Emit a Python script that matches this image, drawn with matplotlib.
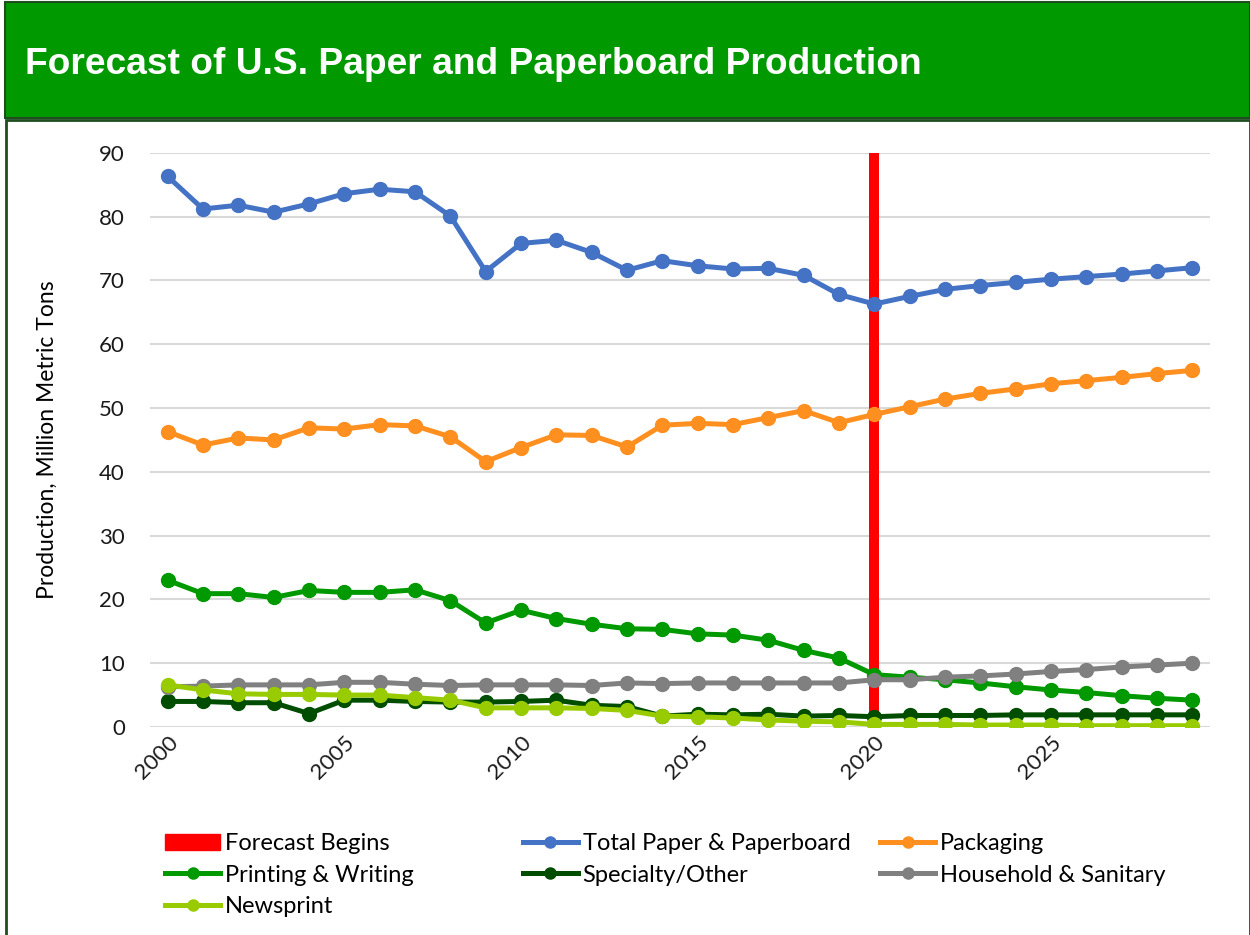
import matplotlib
matplotlib.use('Agg')
import matplotlib.pyplot as plt
from matplotlib.patches import Rectangle, Patch
from matplotlib.lines import Line2D

years = list(range(2000, 2030))
total = [86.3, 81.2, 81.8, 80.7, 82.0, 83.6, 84.3, 83.9, 80.1, 71.4,
         75.8, 76.3, 74.4, 71.6, 73.1, 72.3, 71.8, 71.9, 70.8, 67.8,
         66.3, 67.5, 68.6, 69.2, 69.7, 70.2, 70.6, 71.0, 71.5, 72.0]
packaging = [46.3, 44.2, 45.3, 45.0, 46.9, 46.7, 47.4, 47.2, 45.5, 41.6,
             43.8, 45.8, 45.7, 43.9, 47.3, 47.6, 47.4, 48.5, 49.6, 47.7,
             49.0, 50.2, 51.4, 52.3, 53.0, 53.8, 54.3, 54.8, 55.4, 55.9]
printing = [23.0, 20.9, 20.9, 20.3, 21.4, 21.1, 21.1, 21.5, 19.8, 16.3,
            18.3, 17.0, 16.1, 15.4, 15.3, 14.6, 14.4, 13.6, 12.0, 10.8,
            8.2, 7.8, 7.4, 6.9, 6.3, 5.8, 5.4, 4.9, 4.5, 4.2]
specialty = [4.0, 4.0, 3.8, 3.8, 2.1, 4.2, 4.2, 4.0, 3.9, 3.9,
             4.0, 4.2, 3.4, 3.2, 1.7, 2.0, 1.9, 2.0, 1.7, 1.8,
             1.6, 1.8, 1.8, 1.8, 1.9, 1.9, 1.9, 1.9, 1.9, 1.9]
household = [6.3, 6.4, 6.6, 6.6, 6.6, 7.0, 7.0, 6.7, 6.5, 6.6,
             6.6, 6.6, 6.5, 6.9, 6.8, 6.9, 6.9, 6.9, 6.9, 6.9,
             7.4, 7.4, 7.8, 8.0, 8.3, 8.7, 9.0, 9.4, 9.7, 10.0]
newsprint = [6.6, 5.8, 5.2, 5.1, 5.1, 5.0, 5.0, 4.6, 4.2, 3.0,
             3.0, 3.0, 2.9, 2.6, 1.7, 1.6, 1.4, 1.1, 0.9, 0.8,
             0.4, 0.4, 0.4, 0.3, 0.3, 0.3, 0.2, 0.2, 0.2, 0.2]
forecast_year = [2020]
forecast_height = [90]

series = [
    ('Total Paper & Paperboard', total, '#4472C4'),
    ('Packaging', packaging, '#FF8F1F'),
    ('Printing & Writing', printing, '#009900'),
    ('Specialty/Other', specialty, '#004D00'),
    ('Household & Sanitary', household, '#808080'),
    ('Newsprint', newsprint, '#99CC00'),
]

plt.rcParams['font.family'] = ['Lato', 'DejaVu Sans']

fig = plt.figure(figsize=(12.5, 9.35), dpi=100)

# title banner and panel outline
fig.patches.append(Rectangle((0.004, 0.874), 0.996, 0.124, transform=fig.transFigure,
                             facecolor='#009900', edgecolor='#1E4D1E', linewidth=1.5))
fig.patches.append(Rectangle((0.005, -0.01), 0.995, 0.882, transform=fig.transFigure,
                             facecolor='none', edgecolor='#1E4D1E', linewidth=2))
fig.text(0.02, 0.931, 'Forecast of U.S. Paper and Paperboard Production', color='white',
         fontsize=26.7, fontweight='bold', family='Liberation Sans', va='center', ha='left')

ax = fig.add_axes([0.12, 0.2225, 0.848, 0.614])
ax.bar(forecast_year, forecast_height, width=0.28, color='#FF0000', zorder=2)
handles = {'Forecast Begins': Patch(color='#FF0000')}
for name, vals, col in series:
    ax.plot(years, vals, color=col, lw=3.6, marker='o', ms=10, zorder=3)
    handles[name] = Line2D([], [], color=col, lw=3.6, marker='o', ms=8)

ax.set_xlim(1999.5, 2029.5)
ax.set_ylim(0, 90)
ax.set_yticks(range(0, 91, 10))
ax.set_xticks(range(2000, 2030, 5))
ax.tick_params(axis='both', length=0, labelsize=16, colors='#1a1a1a')
ax.tick_params(axis='y', pad=18)
for lab in ax.get_xticklabels():
    lab.set_rotation(45)
    lab.set_ha('right')
    lab.set_rotation_mode('anchor')
ax.grid(axis='y', color='#D9D9D9', lw=1.5)
ax.set_axisbelow(True)
for s in ax.spines.values():
    s.set_visible(False)
ax.set_ylabel('Production, Million Metric Tons', fontsize=16.5, labelpad=30)

columns = [['Forecast Begins', 'Printing & Writing', 'Newsprint'],
           ['Total Paper & Paperboard', 'Specialty/Other'],
           ['Packaging', 'Household & Sanitary']]
col_x = [0.132, 0.418, 0.704]
for names, x in zip(columns, col_x):
    fig.legend([handles[k] for k in names], names, loc='upper left',
               bbox_to_anchor=(x, 0.109), frameon=False, fontsize=17,
               handlelength=2.35, handletextpad=0.2, labelspacing=0.45,
               borderpad=0, borderaxespad=0)

fig.savefig('out.png', dpi=100)
